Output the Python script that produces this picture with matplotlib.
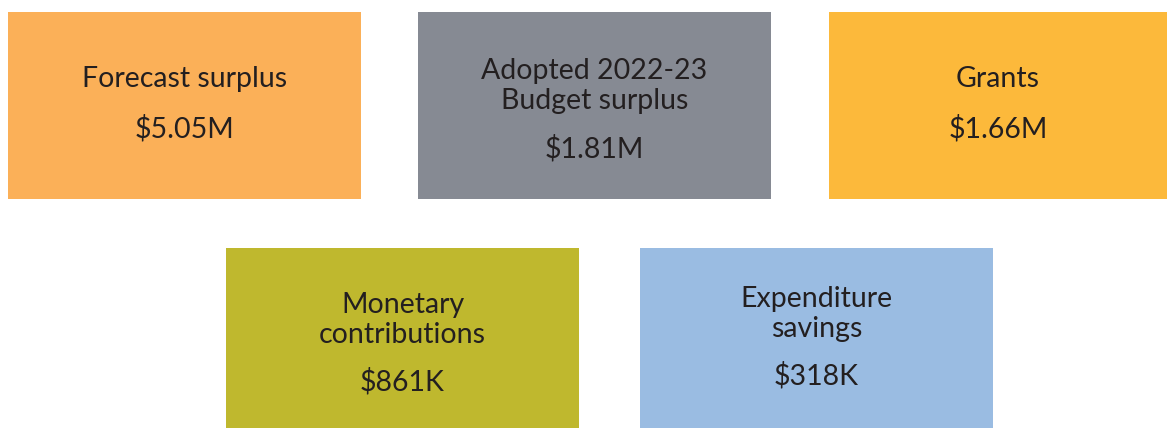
import matplotlib
matplotlib.use("Agg")
import matplotlib.pyplot as plt
from matplotlib.patches import Rectangle

labels = ["Forecast surplus", "Adopted 2022-23\nBudget surplus", "Grants",
          "Monetary\ncontributions", "Expenditure\nsavings"]
values = ["$5.05M", "$1.81M", "$1.66M", "$861K", "$318K"]
colors = ["#FBB058", "#868A93", "#FCB93B", "#BFB82E", "#9ABCE2"]

# layout (pixel boxes: left, top, right, bottom)
boxes = [(8, 12, 361, 199), (418, 12, 771, 199), (829, 12, 1167, 199),
         (226, 248, 579, 428), (640, 248, 993, 428)]
label_y = [79, 86, 79, 320, 314]
value_y = [129, 149, 129, 382, 376]

W, H = 1167, 428
fig = plt.figure(figsize=(W / 100, H / 100), dpi=100)
ax = fig.add_axes([0, 0, 1, 1])
ax.set_xlim(0, W)
ax.set_ylim(H, 0)
ax.axis("off")

txt = "#231f20"
font = "Lato"
for (l, t, r, b), lab, val, c, ly, vy in zip(boxes, labels, values, colors, label_y, value_y):
    ax.add_patch(Rectangle((l, t), r - l, b - t, facecolor=c, edgecolor="none"))
    cx = (l + r) / 2
    ax.text(cx, ly, lab, ha="center", va="center", fontsize=20.5, color=txt,
            family=font, linespacing=1.15)
    ax.text(cx, vy, val, ha="center", va="center", fontsize=20.5, color=txt,
            family=font)

fig.savefig("out.png", dpi=100)
